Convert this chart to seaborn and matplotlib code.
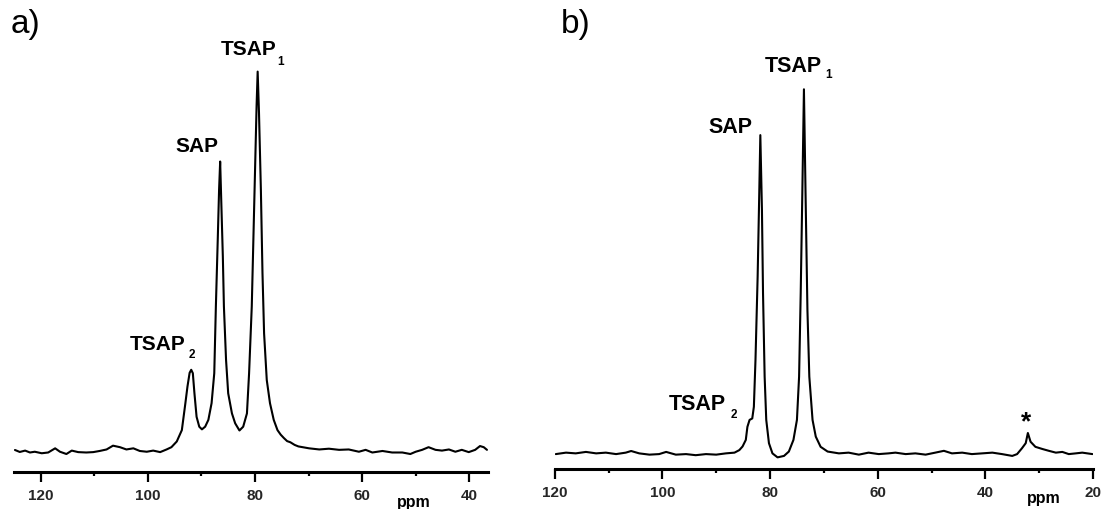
import matplotlib
matplotlib.use("Agg")
import matplotlib.pyplot as plt
import seaborn as sns

# ---------------- data ----------------
# panel a) : chemical shift (ppm) and intensity (a.u., TSAP1 = 100)
a_ppm = [124.8, 123.9, 122.9, 122.0, 121.1, 119.8, 118.6, 117.3, 116.4, 115.2,
         114.2, 113.0, 111.5, 110.2, 109.0, 107.7, 106.5, 105.2, 104.0, 102.7,
         101.5, 100.2, 99.0, 97.7, 96.5, 95.6, 94.6, 93.65, 93.0, 92.6,
         92.2, 91.9, 91.6, 91.3, 90.9, 90.4, 89.9, 89.3, 88.7, 88.1,
         87.6, 87.3, 86.95, 86.7, 86.5, 86.3, 86.0, 85.8, 85.4, 85.0,
         84.3, 83.7, 82.9, 82.2, 81.5, 81.1, 80.6, 80.3, 80.0, 79.7,
         79.5, 79.25, 78.9, 78.6, 78.3, 77.8, 77.2, 76.5, 75.8, 75.2,
         74.6, 74.0, 73.4, 72.6, 71.9, 71.1, 69.9, 68.0, 66.2, 64.3,
         62.5, 60.6, 59.35, 58.1, 56.2, 54.4, 52.5, 51.0, 50.0, 48.8,
         47.6, 46.3, 45.1, 43.8, 42.6, 41.4, 40.1, 38.9, 38.0, 37.3, 36.7]
a_int = [0.26, -0.26, 0.1, -0.4, -0.2, -0.6, -0.4, 0.7, -0.2, -0.8,
         0.1, -0.3, -0.4, -0.3, 0.0, 0.4, 1.4, 1.0, 0.4, 0.7,
         0.0, -0.2, 0.1, -0.3, 0.4, 1.0, 2.5, 5.5, 12.5, 17.0,
         20.6, 21.4, 20.5, 15.2, 9.0, 6.4, 5.7, 6.4, 8.2, 12.6,
         20.5, 38.1, 55.7, 68.9, 76.3, 66.2, 51.3, 38.1, 24.0, 15.2,
         9.9, 7.3, 5.4, 6.4, 9.9, 20.5, 38.1, 55.7, 73.3, 91.0,
         100.0, 89.1, 68.9, 46.9, 31.0, 18.7, 12.6, 8.2, 5.5, 4.3,
         3.4, 2.6, 2.3, 1.6, 1.2, 1.0, 0.7, 0.4, 0.6, 0.3,
         0.4, -0.2, 0.3, -0.4, 0.0, -0.4, -0.4, -0.8, -0.2, 0.3,
         1.0, 0.3, 0.1, 0.4, -0.2, 0.3, -0.3, 0.3, 1.3, 1.0, 0.3]

# panel b) : chemical shift (ppm) and intensity (a.u., TSAP1 = 100)
b_ppm = [119.8, 117.9, 116.1, 114.2, 112.3, 110.5, 108.6, 106.8, 105.8, 104.3,
         102.4, 100.6, 99.3, 97.5, 95.6, 93.8, 91.9, 90.0, 88.2, 86.6,
         85.7, 85.1, 84.5, 84.2, 83.8, 83.3, 83.0, 82.7, 82.3, 82.0,
         81.8, 81.5, 81.3, 81.0, 80.7, 80.2, 79.55, 78.6, 77.4, 76.5,
         75.65, 75.0, 74.6, 74.3, 74.0, 73.7, 73.4, 73.05, 72.7, 72.1,
         71.5, 70.6, 69.3, 67.2, 65.4, 63.5, 61.7, 59.8, 58.0, 56.7,
         54.8, 53.0, 51.1, 49.3, 47.7, 46.2, 44.3, 42.5, 40.6, 38.7,
         36.9, 35.0, 34.1, 33.2, 32.5, 32.1, 31.6, 30.7, 29.4, 28.2,
         26.9, 25.7, 24.5, 23.2, 22.0, 20.1]
b_int = [-0.3, 0.1, -0.1, 0.3, -0.1, 0.1, -0.3, 0.1, 0.55, -0.1,
         -0.45, -0.3, 0.3, -0.45, -0.3, -0.6, -0.3, -0.45, -0.1, 0.1,
         0.8, 1.8, 3.6, 7.2, 9.1, 9.5, 12.7, 25.6, 48.5, 71.4,
         87.4, 66.8, 43.9, 21.0, 9.1, 2.7, -0.1, -1.2, -0.8, 0.4,
         3.6, 9.1, 21.0, 43.9, 71.4, 100.0, 71.4, 39.3, 21.0, 9.1,
         4.5, 1.7, 0.4, -0.1, 0.1, -0.45, 0.1, -0.3, -0.1, 0.1,
         -0.3, -0.1, -0.45, 0.1, 0.6, -0.1, 0.1, -0.3, -0.1, 0.1,
         -0.3, -0.8, -0.3, 1.3, 2.7, 5.5, 3.1, 1.7, 1.1, 0.6,
         0.1, 0.3, -0.3, -0.1, 0.1, -0.3]

a_major = [120, 100, 80, 60, 40]
a_minor = [110, 90, 70, 50]
b_major = [120, 100, 80, 60, 40, 20]
b_minor = [110, 90, 70, 50, 30]

# ---------------- figure ----------------
W, H = 1105, 509
sns.set_style("white")
plt.rcParams["font.family"] = ["Liberation Sans", "DejaVu Sans"]

fig = plt.figure(figsize=(W / 100, H / 100), dpi=100)


def ax_box(x0, x1, ytop, ybot):
    return [x0 / W, 1 - ybot / H, (x1 - x0) / W, (ybot - ytop) / H]


ax_a = fig.add_axes(ax_box(14, 488.3, 20, 472.3))
ax_b = fig.add_axes(ax_box(554.7, 1093, 20, 469.3))

for ax, ppm, inten, xl, yl, maj, mnr in [
    (ax_a, a_ppm, a_int, (124.98, 36.45), (-5.62, 113.6), a_major, a_minor),
    (ax_b, b_ppm, b_int, (120, 20), (-4.48, 119.05), b_major, b_minor),
]:
    sns.lineplot(x=ppm, y=inten, ax=ax, color="black", linewidth=1.5,
                 estimator=None, sort=False)
    ax.set_xlim(*xl)
    ax.set_ylim(*yl)
    for s in ("left", "right", "top"):
        ax.spines[s].set_visible(False)
    ax.spines["bottom"].set_linewidth(2.2)
    ax.spines["bottom"].set_color("black")
    ax.set_yticks([])
    ax.set_xticks(maj)
    ax.set_xticks(mnr, minor=True)
    ax.set_xticklabels([str(v) for v in maj], fontweight="bold")
    ax.tick_params(axis="x", which="major", direction="out", length=7,
                   width=1.6, color="black", labelsize=11, pad=5,
                   bottom=True)
    ax.tick_params(axis="x", which="minor", direction="out", length=3,
                   width=1.6, color="black", bottom=True)
    ax.set_xlabel("")
    ax.set_ylabel("")
    ax.patch.set_alpha(0)


def txt(x, y, s, size, **kw):
    fig.text(x / W, 1 - y / H, s, fontsize=size, color="black",
             va="baseline", **kw)


# panel letters
txt(11, 33, "a)", 24)
txt(561, 33, "b)", 24)

# panel a peak labels
txt(221, 55, "TSAP", 15, fontweight="bold")
txt(281, 65, "1", 8.5, ha="center", fontweight="bold")
txt(175, 152, "SAP", 15, fontweight="bold")
txt(129.6, 350, "TSAP", 15, fontweight="bold")
txt(192, 358, "2", 8.5, ha="center", fontweight="bold")

# panel b peak labels
txt(765, 71.7, "TSAP", 15.5, fontweight="bold")
txt(829, 78, "1", 8.5, ha="center", fontweight="bold")
txt(708.4, 133, "SAP", 15.5, fontweight="bold")
txt(669, 410, "TSAP", 15.5, fontweight="bold")
txt(734, 418, "2", 8.5, ha="center", fontweight="bold")
txt(1026, 429, "*", 19, ha="center", fontweight="bold")

# axis unit labels
txt(414, 507, "ppm", 11.5, ha="center", fontweight="bold")
txt(1044, 503, "ppm", 11.5, ha="center", fontweight="bold")

fig.savefig("out.png", dpi=100)
